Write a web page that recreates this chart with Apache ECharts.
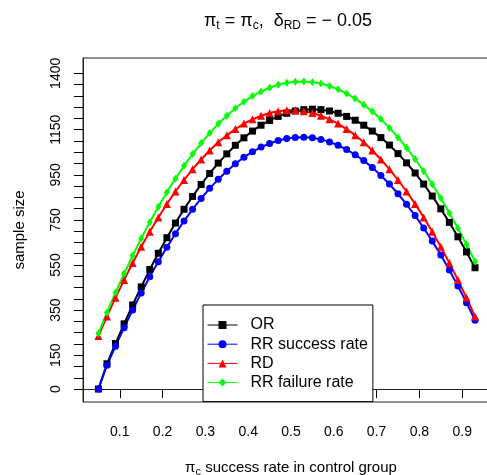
<!DOCTYPE html>
<html><head><meta charset="utf-8">
<script src="https://cdn.jsdelivr.net/npm/echarts@6/dist/echarts.min.js"></script>
<style>html,body{margin:0;padding:0;background:#fff}#c{width:487px;height:475px}</style>
</head><body><div id="c"></div>
<script>
const pc = [0.05,0.07,0.09,0.11,0.13,0.15,0.17,0.19,0.21,0.23,0.25,0.27,0.29,0.31,0.33,0.35,0.37,0.39,0.41,0.43,0.45,0.47,0.49,0.51,0.53,0.55,0.57,0.59,0.61,0.63,0.65,0.67,0.69,0.71,0.73,0.75,0.77,0.79,0.81,0.83,0.85,0.87,0.89,0.91,0.93];
const orN = [0,112,202,289,373,453,530,602,671,736,797,854,907,956,1002,1043,1081,1114,1144,1170,1191,1209,1223,1233,1239,1241,1239,1233,1223,1209,1192,1170,1144,1115,1082,1044,1003,958,909,856,799,739,675,608,538];
const rrS = [0,105,190,272,351,426,498,565,629,689,745,797,845,890,930,966,999,1028,1052,1073,1089,1102,1111,1116,1117,1114,1107,1096,1081,1062,1039,1013,982,947,909,866,819,769,714,656,594,528,457,383,305];
const rdN = [235,322,405,484,559,631,698,761,821,876,927,975,1018,1058,1094,1125,1153,1177,1196,1212,1224,1232,1236,1236,1232,1224,1212,1196,1177,1153,1125,1094,1058,1018,975,927,876,821,761,698,631,559,484,405,322];
const rrF = [247,339,428,512,592,668,740,808,873,933,990,1042,1091,1135,1176,1212,1245,1274,1299,1319,1336,1349,1358,1363,1364,1361,1355,1344,1329,1311,1288,1261,1231,1197,1158,1116,1070,1020,966,908,847,781,713,641,566];
const xTicks = [0.1,0.2,0.3,0.4,0.5,0.6,0.7,0.8,0.9];
const yTicks = [0,50,100,150,200,250,300,350,400,450,500,550,600,650,700,750,800,850,900,950,1000,1050,1100,1150,1200,1250,1300,1350,1400];
const yLabels = [0,150,350,550,750,950,1150,1400];
const names = ['OR','RR success rate','RD','RR failure rate'];

const FONT = 'Liberation Sans, Arial, Helvetica, sans-serif';
const chart = echarts.init(document.getElementById('c'), null, {renderer:'canvas'});
function mk(name, vals, color, symbol, size){
  return {name, type:'line', data: pc.map((x,i)=>[x, vals[i]]), symbol, symbolSize:size,
    showAllSymbol:true, lineStyle:{color, width:2}, itemStyle:{color}, animation:false,
    emphasis:{disabled:true}};
}
chart.setOption({
  animation:false,
  title:{
    text:'{a|π}{s|t}{a| = π}{s|c}{a|,  δ}{s|RD}{a| = − 0.05}',
    left:283, top:5, textAlign:'center',
    textStyle:{fontWeight:'normal', rich:{
      a:{fontFamily:FONT, fontSize:18, color:'#000', fontWeight:'normal'},
      s:{fontFamily:FONT, fontSize:12, color:'#000', fontWeight:'normal', padding:[10,0,0,0]}
    }}
  },
  grid:{left:83, top:58, right:-12, bottom:73, show:true, borderColor:'#222', borderWidth:1,
    backgroundColor:'transparent', containLabel:false, outerBoundsMode:'none'},
  legend:{
    orient:'vertical', left:203, top:305, itemWidth:30, itemHeight:10, itemGap:3.2,
    padding:[12,5,11,4], borderColor:'#000', borderWidth:1, backgroundColor:'#fff',
    data:names, selectedMode:false,
    textStyle:{fontFamily:FONT, fontSize:16, lineHeight:14, color:'#000', padding:[0,0,0,8]},
    lineStyle:{width:1}
  },
  xAxis:{
    type:'value', min:0.014, max:0.986,
    name:'{a|π}{s|c}{a| success rate in control group}', nameLocation:'middle', nameGap:56,
    nameTextStyle:{rich:{
      a:{fontFamily:FONT, fontSize:15, color:'#000'},
      s:{fontFamily:FONT, fontSize:11, color:'#000', padding:[8,0,0,0]}
    }},
    axisLine:{show:true, lineStyle:{color:'#222', width:1}}, splitLine:{show:false},
    axisTick:{show:true, inside:false, length:9, lineStyle:{color:'#000', width:1}, customValues:xTicks},
    axisLabel:{fontFamily:FONT, fontSize:14, color:'#000', margin:23, customValues:xTicks,
      formatter:v=>v.toFixed(1)}
  },
  yAxis:{
    type:'value', min:-57.5, max:1468,
    name:'sample size', nameLocation:'middle', nameGap:56, nameRotate:90,
    nameTextStyle:{fontFamily:FONT, fontSize:15, color:'#000'},
    axisLine:{show:true, lineStyle:{color:'#222', width:1}}, splitLine:{show:false},
    axisTick:{show:true, inside:false, length:9, lineStyle:{color:'#000', width:1}, customValues:yTicks},
    axisLabel:{fontFamily:FONT, fontSize:14, color:'#000', margin:20, rotate:90, customValues:yLabels,
      formatter:v=>String(v)}
  },
  series:[
    mk(names[0], orN, '#000000', 'rect', 7),
    mk(names[1], rrS, '#0000ff', 'circle', 7),
    mk(names[2], rdN, '#ff0000', 'triangle', 8),
    mk(names[3], rrF, '#00ff00', 'diamond', [6,8])
  ]
});
</script></body></html>
